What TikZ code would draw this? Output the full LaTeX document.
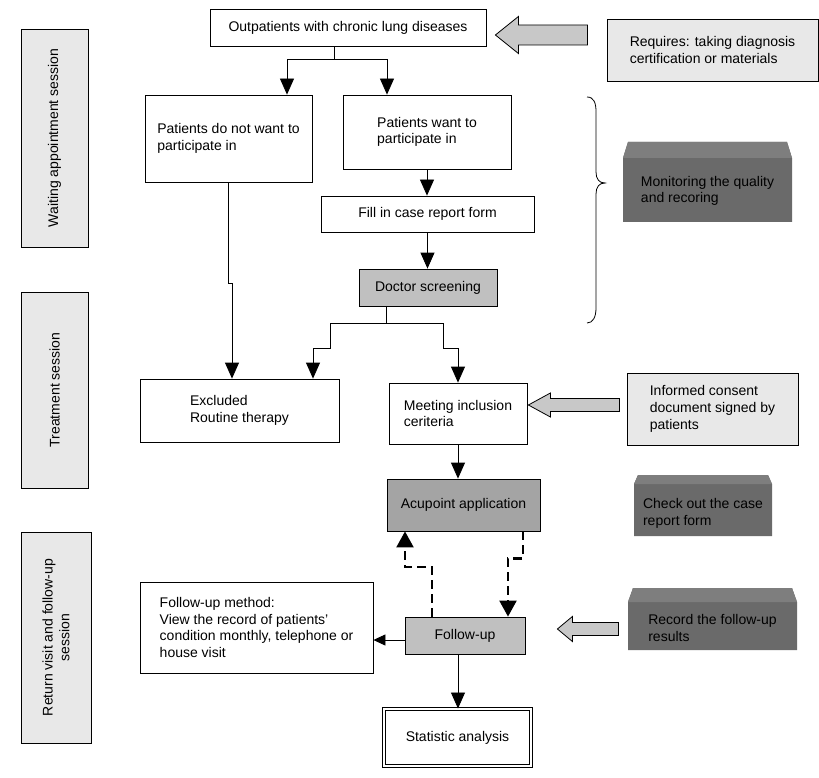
\documentclass[tikz,border=0pt]{standalone}
\usepackage{fontspec}
\setmainfont{Liberation Sans}
\usetikzlibrary{arrows.meta,calc}
\definecolor{lightfill}{HTML}{E8E8E8}
\definecolor{midfill}{HTML}{C0C0C0}
\definecolor{acufill}{HTML}{A4A4A4}
\definecolor{darkfill}{HTML}{6A6A6A}
\definecolor{bandfill}{HTML}{7E7E7E}
\definecolor{arrowfill}{HTML}{C8C8C8}
\begin{document}
\begin{tikzpicture}[x=1pt,y=-1pt,
  font=\fontsize{14}{16.7}\selectfont,
  >={Triangle[width=14pt,length=16pt]},
  conn/.style={line width=0.8pt,->},
  dasharrow/.style={line width=2.2pt, dash pattern=on 9pt off 5pt, -{Triangle[width=17pt,length=16pt]}},
  smallarrow/.style={line width=0.8pt, -{Triangle[width=11pt,length=12pt]}},
  box/.style={draw, line width=0.8pt, fill=white, align=left, inner sep=0pt},
  lightbox/.style={box, fill=lightfill},
  session/.style={draw, line width=0.8pt, fill=lightfill, rotate=90, align=center, inner sep=0pt},
  bigarrow/.style={draw, line width=0.8pt, fill=arrowfill, line join=miter},
  bevel/.style args={#1/#2}{draw=none, inner sep=0pt,
    path picture={\fill[darkfill] (path picture bounding box.south west)
      -- ([yshift=-#2pt]path picture bounding box.north west)
      -- ([xshift=#1pt]path picture bounding box.north west)
      -- ([xshift=-#1pt]path picture bounding box.north east)
      -- ([yshift=-#2pt]path picture bounding box.north east)
      -- (path picture bounding box.south east) -- cycle;
      \fill[bandfill] ([yshift=-#2pt]path picture bounding box.north west)
      -- ([xshift=#1pt]path picture bounding box.north west)
      -- ([xshift=-#1pt]path picture bounding box.north east)
      -- ([yshift=-#2pt]path picture bounding box.north east) -- cycle;}},
  inner/.style={align=left}
]
\useasboundingbox (0,0) rectangle (819,778);

% session boxes
\node[session, minimum width=218, minimum height=67] (s1) at (54.5,138) {Waiting appointment session};
\node[session, minimum width=196, minimum height=67] (s2) at (54.5,390) {Treatment session};
\node[session, minimum width=211, minimum height=70] (s3) at (56,637.5) {Return visit and follow-up\\session};

% main flow
\node[box, minimum width=276, minimum height=37] (top) at (348,27.5) {Outpatients with chronic lung diseases};
\node[box, minimum width=167, minimum height=87] (nowant) at (228.5,138.5) {Patients do not want to\\participate in};
\node[box, minimum width=168, minimum height=74] (want) at (427,132) {Patients want to\\participate in};
\node[box, minimum width=213, minimum height=36] (crf) at (427.5,214) {Fill in case report form};
\node[box, fill=midfill, minimum width=138, minimum height=37] (doc) at (428,287.5) {Doctor screening};
\node[box, minimum width=199, minimum height=63] (excl) at (239.5,410.5) {Excluded\\Routine therapy};
\node[box, minimum width=138, minimum height=61] (meet) at (458,413.5) {Meeting inclusion\\ceriteria};
\node[box, fill=acufill, minimum width=153, minimum height=52] (acu) at (463.5,505) {Acupoint application};
\node[box, fill=midfill, minimum width=120, minimum height=37] (fu) at (465,635.5) {Follow-up};
\node[box, minimum width=233, minimum height=91] (method) at (256.5,627.5) {Follow-up method:\\View the record of patients'\\condition monthly, telephone or\\house visit};
\node[box, double, double distance=2pt, line width=0.9pt, minimum width=147, minimum height=57] (stat) at (457.5,737.5) {Statistic analysis};

% side boxes
\node[lightbox, minimum width=211, minimum height=62] (req) at (712.5,50) {Requires: taking diagnosis\\certification or materials};
\node[lightbox, minimum width=171, minimum height=72] (inf) at (712.5,409) {Informed consent\\document signed by\\patients};
\node[bevel={5/16}, minimum width=169, minimum height=80,
  label={[inner, yshift=-9pt]center:Monitoring the quality\\and recoring}] (mon) at (707.5,182) {};
\node[bevel={4/9}, minimum width=138, minimum height=61,
  label={[inner, yshift=-8pt]center:Check out the case\\report form}] (chk) at (703,505.5) {};
\node[bevel={5/14}, minimum width=169, minimum height=62,
  label={[inner, yshift=-9pt]center:Record the follow-up\\results}] (rec) at (712.5,619) {};

% block arrows
\coordinate (t1) at ($(top.east)+(9,7.5)$);
\coordinate (t2) at ($(meet.east)+(1,-8.5)$);
\coordinate (t3) at ($(fu.east)+(32,-6.5)$);
\draw[bigarrow] (t1) -- ++(23,-18.5) -- ++(0,8.5) -- ++(69,0) -- ++(0,20) -- ++(-69,0) -- ++(0,8.5) -- cycle;
\draw[bigarrow] (t2) -- ++(22,-12) -- ++(0,5.5) -- ++(69,0) -- ++(0,13) -- ++(-69,0) -- ++(0,5.5) -- cycle;
\draw[bigarrow] (t3) -- ++(15,-12.5) -- ++(0,6) -- ++(46,0) -- ++(0,13) -- ++(-46,0) -- ++(0,6) -- cycle;

% brace
\draw[line width=0.8pt] (587,97) .. controls (594,97) and (596,103) .. (596,112) -- (596,172)
  .. controls (596,179) and (599,183) .. (605,183)
  .. controls (599,183) and (596,187) .. (596,194) -- (596,308)
  .. controls (596,317) and (593,323) .. (587,323);

% connectors
\draw[conn] ([xshift=-14pt]top.south) -- ++(0,13) -| ([xshift=58.5pt]nowant.north);
\draw[conn] ([xshift=-14pt]top.south) -- ++(0,13) -| ([xshift=-40pt]want.north);
\draw[conn] (want.south) -- (want.south |- crf.north);
\draw[conn] (crf.south) -- (crf.south |- doc.north);
\draw[conn] (nowant.south) -- ++(0,101) -| ([xshift=3.5pt]nowant.south |- excl.north);
\draw[conn] ([xshift=-42pt]doc.south) -- ++(0,17) -| ++(-56,25) -| ([xshift=73.5pt]excl.north);
\draw[conn] ([xshift=-42pt]doc.south) -- ++(0,17) -| ++(57,25) -| (meet.north);
\draw[conn] (meet.south) -- (meet.south |- acu.north);
\draw[dasharrow] ([xshift=59.5pt]acu.south) -- ++(0,27) -| ([xshift=43pt]fu.north);
\draw[dasharrow] ([xshift=-33pt]fu.north) -- ++(0,-50) -| ([xshift=-58.5pt]acu.south);
\draw[smallarrow] ([yshift=-4.5pt]fu.west) -- ([yshift=-4.5pt]fu.west -| method.east);
\draw[conn] ([xshift=-7pt]fu.south) -- ([xshift=-7pt]fu.south |- stat.north);
\end{tikzpicture}
\end{document}
